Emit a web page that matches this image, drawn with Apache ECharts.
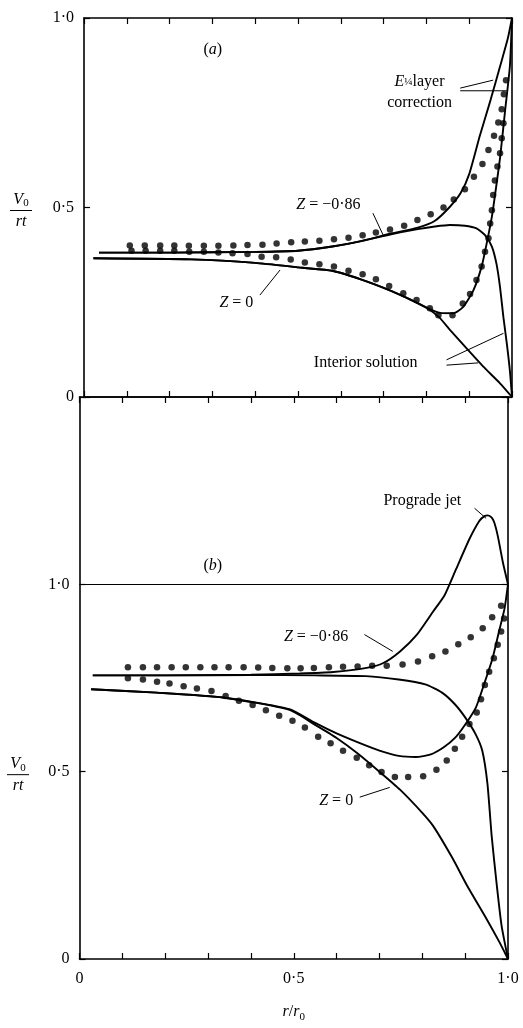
<!DOCTYPE html>
<html>
<head>
<meta charset="utf-8">
<script src="https://cdn.jsdelivr.net/npm/echarts@6/dist/echarts.min.js"></script>
<style>
  html, body { margin: 0; padding: 0; background: #fff; }
  #main { width: 523px; height: 1028px; }
</style>
</head>
<body>
<div id="main"></div>
<script>
var FONT = 'Liberation Serif';

// tick labels (0, 0.5, 1.0)
var xTickLabels = ['0', '0·5', '1·0'];
var yTickLabels = ['0', '0·5', '1·0'];

// ---- panel (a) : [r/r0, V0/rt] ----
// Z = -0.86, with E^1/4 layer correction
var aCorrZ086 = [[0.035,0.381],[0.2,0.381],[0.4,0.383],[0.5,0.386],[0.58,0.397],[0.65,0.412],[0.72,0.432],
  [0.78,0.447],[0.82,0.465],[0.855,0.502],[0.88,0.538],[0.90,0.588],[0.925,0.69],[0.95,0.784],[0.972,0.872],
  [0.99,0.945],[1.0,1.0]];
// Z = -0.86, interior solution
var aIntZ086 = [[0.035,0.381],[0.2,0.381],[0.4,0.383],[0.5,0.386],[0.58,0.397],[0.65,0.412],[0.72,0.430],
  [0.78,0.443],[0.82,0.450],[0.855,0.454],[0.89,0.452],[0.917,0.445],[0.937,0.427],[0.953,0.397],[0.964,0.35],
  [0.972,0.29],[0.98,0.21],[0.988,0.14],[0.995,0.07],[1.0,0]];
// Z = 0, with correction
var aCorrZ0 = [[0.022,0.366],[0.25,0.363],[0.40,0.354],[0.51,0.341],[0.58,0.333],[0.66,0.305],[0.74,0.269],
  [0.80,0.236],[0.832,0.222],[0.863,0.221],[0.886,0.238],[0.91,0.282],[0.929,0.344],[0.941,0.406],[0.953,0.476],
  [0.96,0.53],[0.972,0.63],[0.984,0.757],[0.995,0.872],[1.0,1.0]];
// Z = 0, interior solution
var aIntZ0 = [[0.022,0.366],[0.25,0.363],[0.40,0.354],[0.51,0.341],[0.58,0.333],[0.66,0.305],[0.74,0.269],
  [0.80,0.236],[0.83,0.21],[0.855,0.177],[0.894,0.128],[0.933,0.080],[0.972,0.036],[1.0,0]];
// measured points
var aDotsZ086 = [[0.107,0.400],[0.142,0.400],[0.178,0.400],[0.211,0.400],[0.245,0.399],[0.280,0.399],[0.314,0.399],
  [0.349,0.400],[0.382,0.401],[0.417,0.402],[0.450,0.405],[0.484,0.408],[0.516,0.410],[0.550,0.412],[0.584,0.416],
  [0.618,0.420],[0.651,0.427],[0.682,0.434],[0.715,0.442],[0.748,0.452],[0.779,0.467],[0.810,0.482],[0.840,0.500],
  [0.864,0.521],[0.890,0.548],[0.911,0.581],[0.931,0.615],[0.945,0.652],[0.958,0.689],[0.968,0.724],[0.976,0.759],
  [0.981,0.799],[0.986,0.836]];
var aDotsZ0 = [[0.111,0.386],[0.144,0.386],[0.178,0.386],[0.211,0.386],[0.246,0.383],[0.280,0.383],[0.314,0.381],
  [0.347,0.379],[0.382,0.377],[0.415,0.370],[0.449,0.369],[0.483,0.363],[0.516,0.355],[0.550,0.350],[0.584,0.344],
  [0.618,0.333],[0.651,0.324],[0.682,0.311],[0.713,0.293],[0.746,0.274],[0.777,0.256],[0.808,0.234],[0.828,0.216],
  [0.861,0.216],[0.885,0.247],[0.902,0.272],[0.917,0.309],[0.929,0.344],[0.937,0.383],[0.945,0.419],[0.949,0.458],
  [0.953,0.493],[0.956,0.533],[0.960,0.571],[0.966,0.608],[0.972,0.643],[0.976,0.683],[0.980,0.722]];

// ---- panel (b) ----
var bCorrZ086 = [[0.031,0.757],[0.2,0.757],[0.4,0.759],[0.514,0.762],[0.592,0.766],[0.67,0.777],[0.709,0.790],
  [0.748,0.821],[0.787,0.865],[0.825,0.927],[0.852,0.971],[0.879,1.041],[0.910,1.121],[0.933,1.169],[0.945,1.182],
  [0.953,1.184],[0.962,1.178],[0.968,1.165],[0.976,1.13],[0.988,1.059],[1.0,1.0]];
var bIntZ086 = [[0.031,0.757],[0.2,0.757],[0.4,0.758],[0.55,0.757],[0.668,0.755],[0.745,0.746],[0.807,0.733],
  [0.846,0.711],[0.876,0.680],[0.900,0.645],[0.924,0.601],[0.94,0.556],[0.952,0.468],[0.962,0.327],[0.974,0.195],
  [0.985,0.089],[1.0,0]];
var bCorrZ0 = [[0.027,0.720],[0.18,0.711],[0.335,0.698],[0.49,0.667],[0.55,0.630],[0.60,0.602],[0.65,0.578],
  [0.70,0.556],[0.745,0.542],[0.785,0.539],[0.82,0.546],[0.85,0.565],[0.878,0.592],[0.901,0.627],[0.925,0.671],
  [0.944,0.733],[0.964,0.803],[0.979,0.874],[0.992,0.936],[1.0,1.0]];
var bIntZ0 = [[0.027,0.720],[0.18,0.711],[0.335,0.698],[0.49,0.665],[0.55,0.625],[0.60,0.59],[0.65,0.548],
  [0.70,0.50],[0.748,0.452],[0.80,0.39],[0.826,0.354],[0.87,0.27],[0.904,0.197],[0.95,0.107],[0.98,0.045],[1.0,0]];
var bDotsZ086 = [[0.113,0.779],[0.148,0.779],[0.181,0.779],[0.215,0.779],[0.248,0.779],[0.282,0.779],[0.315,0.779],
  [0.348,0.779],[0.383,0.779],[0.417,0.778],[0.450,0.777],[0.485,0.776],[0.516,0.776],[0.547,0.777],[0.582,0.779],
  [0.615,0.780],[0.649,0.781],[0.683,0.783],[0.717,0.783],[0.754,0.786],[0.790,0.794],[0.823,0.808],[0.854,0.821],
  [0.884,0.840],[0.913,0.859],[0.941,0.883],[0.963,0.912],[0.984,0.943]];
var bDotsZ0 = [[0.113,0.749],[0.148,0.746],[0.181,0.740],[0.210,0.735],[0.243,0.728],[0.274,0.722],[0.308,0.715],
  [0.341,0.702],[0.372,0.689],[0.404,0.678],[0.435,0.664],[0.466,0.649],[0.497,0.636],[0.526,0.618],[0.557,0.593],
  [0.586,0.576],[0.615,0.556],[0.647,0.537],[0.676,0.517],[0.705,0.499],[0.736,0.486],[0.767,0.486],[0.802,0.488],
  [0.833,0.505],[0.857,0.530],[0.876,0.561],[0.893,0.593],[0.910,0.627],[0.927,0.658],[0.937,0.693],[0.946,0.731],
  [0.956,0.767],[0.967,0.803],[0.976,0.839],[0.984,0.874],[0.991,0.909]];

var chart = echarts.init(document.getElementById('main'));

function pickLabel(labels, v) {
  var k = Math.round(v / 0.5);
  if (Math.abs(v - k * 0.5) < 1e-6 && k < labels.length) return labels[k];
  return '';
}

function xAx(grid, pos, showLabel) {
  return {
    type: 'value', gridIndex: grid, position: pos, min: 0, max: 1, interval: 0.1,
    axisLine: { show: true, onZero: false, lineStyle: { color: '#000', width: 1.6 } },
    axisTick: { show: true, inside: true, length: 6, lineStyle: { color: '#000', width: 1.2 } },
    splitLine: { show: false },
    axisLabel: { show: showLabel, margin: 12, color: '#000', fontFamily: FONT, fontSize: 16,
      showMinLabel: true, showMaxLabel: true,
      formatter: function (v) { return pickLabel(xTickLabels, v); } }
  };
}
function yAx(grid, pos, max, showLabel) {
  return {
    type: 'value', gridIndex: grid, position: pos, min: 0, max: max, interval: 0.5,
    axisLine: { show: true, onZero: false, lineStyle: { color: '#000', width: 1.6 } },
    axisTick: { show: true, inside: true, length: 6, lineStyle: { color: '#000', width: 1.2 } },
    splitLine: { show: false },
    axisLabel: { show: showLabel, margin: 10, color: '#000', fontFamily: FONT, fontSize: 16,
      showMinLabel: true, showMaxLabel: true,
      formatter: function (v) { return pickLabel(yTickLabels, v); } }
  };
}
function lineSeries(data, panel) {
  return { type: 'line', data: data, xAxisIndex: panel * 2, yAxisIndex: panel * 2,
    showSymbol: false, smooth: 0.2, silent: true,
    lineStyle: { color: '#000', width: 1.9 } };
}
function dotSeries(data, panel) {
  return { type: 'scatter', data: data, xAxisIndex: panel * 2, yAxisIndex: panel * 2,
    symbol: 'circle', symbolSize: 6.5, silent: true, itemStyle: { color: '#000' } };
}

var xB = xAx(1, 'bottom', true);
xB.name = '{i|r}/{i|r}{s|0}';
xB.nameLocation = 'middle';
xB.nameGap = 42;
xB.nameTextStyle = { color: '#000', fontFamily: FONT, fontSize: 16,
  rich: { i: { fontStyle: 'italic', fontFamily: FONT, fontSize: 16, lineHeight: 22, verticalAlign: 'middle' },
          s: { fontFamily: FONT, fontSize: 11, lineHeight: 22, verticalAlign: 'bottom' } } };

var refLine = lineSeries([], 1);
refLine.markLine = { silent: true, symbol: 'none', label: { show: false },
  lineStyle: { color: '#000', width: 1.2, type: 'solid' }, data: [{ yAxis: 1 }] };

var option = {
  animation: false,
  backgroundColor: '#fff',
  grid: [
    { left: 84, top: 18, width: 428, height: 379 },
    { left: 79.5, top: 397, width: 428.5, height: 570 }
  ],
  xAxis: [xAx(0, 'bottom', false), xAx(0, 'top', false), xB, xAx(1, 'top', false)],
  yAxis: [yAx(0, 'left', 1, true), yAx(0, 'right', 1, false), yAx(1, 'left', 1.5, true), yAx(1, 'right', 1.5, false)],
  series: [
    lineSeries(aCorrZ086, 0), lineSeries(aIntZ086, 0), lineSeries(aCorrZ0, 0), lineSeries(aIntZ0, 0),
    dotSeries(aDotsZ086, 0), dotSeries(aDotsZ0, 0),
    lineSeries(bCorrZ086, 1), lineSeries(bIntZ086, 1), lineSeries(bCorrZ0, 1), lineSeries(bIntZ0, 1),
    dotSeries(bDotsZ086, 1), dotSeries(bDotsZ0, 1),
    refLine
  ]
};
chart.setOption(option);

// ---- annotations, placed in data coordinates ----
var notes = [
  { panel: 0, text: '({i|a})', at: [0.301, 0.916] },
  { panel: 0, text: '{i|E}{f|¼}layer', at: [0.784, 0.831] },
  { panel: 0, text: 'correction', at: [0.784, 0.776] },
  { panel: 0, text: '{i|Z} = −0·86', at: [0.571, 0.507] },
  { panel: 0, text: '{i|Z} = 0', at: [0.356, 0.248] },
  { panel: 0, text: 'Interior solution', at: [0.658, 0.090] },
  { panel: 1, text: 'Prograde jet', at: [0.80, 1.224] },
  { panel: 1, text: '({i|b})', at: [0.311, 1.05] },
  { panel: 1, text: '{i|Z} = −0·86', at: [0.552, 0.861] },
  { panel: 1, text: '{i|Z} = 0', at: [0.599, 0.421] }
];
var leaders = [
  { panel: 0, from: [0.879, 0.815], to: [0.956, 0.836] },
  { panel: 0, from: [0.879, 0.808], to: [0.988, 0.808] },
  { panel: 0, from: [0.675, 0.485], to: [0.699, 0.427] },
  { panel: 0, from: [0.411, 0.269], to: [0.458, 0.335] },
  { panel: 0, from: [0.847, 0.098], to: [0.980, 0.168] },
  { panel: 0, from: [0.847, 0.084], to: [0.921, 0.090] },
  { panel: 1, from: [0.922, 1.203], to: [0.949, 1.176] },
  { panel: 1, from: [0.665, 0.866], to: [0.731, 0.821] },
  { panel: 1, from: [0.654, 0.432], to: [0.724, 0.458] }
];

function px(panel, p) {
  return chart.convertToPixel({ xAxisIndex: panel * 2, yAxisIndex: panel * 2 }, p);
}
var rich = {
  i: { fontStyle: 'italic', fontFamily: FONT, fontSize: 16 },
  f: { fontFamily: FONT, fontSize: 11 },
  s: { fontFamily: FONT, fontSize: 11, padding: [8, 0, 0, 0] }
};
var elements = [];
notes.forEach(function (n) {
  var p = px(n.panel, n.at);
  elements.push({ type: 'text', x: p[0], y: p[1], silent: true,
    style: { text: n.text, rich: rich, fill: '#000', fontFamily: FONT, fontSize: 16,
      align: 'center', verticalAlign: 'middle' } });
});
leaders.forEach(function (l) {
  var a = px(l.panel, l.from), b = px(l.panel, l.to);
  elements.push({ type: 'line', silent: true, shape: { x1: a[0], y1: a[1], x2: b[0], y2: b[1] },
    style: { stroke: '#000', lineWidth: 1 } });
});
// V0/rt fraction next to the 0.5 tick of each panel
[[0, 21], [1, 18]].forEach(function (f) {
  var y = chart.convertToPixel({ yAxisIndex: f[0] * 2 }, 0.5) + 3;
  var cx = f[1];
  elements.push({ type: 'text', x: cx, y: y - 11, silent: true,
    style: { text: '{i|V}{s|0}', rich: rich, fill: '#000', fontFamily: FONT, fontSize: 16,
      align: 'center', verticalAlign: 'middle' } });
  elements.push({ type: 'line', silent: true, shape: { x1: cx - 11, y1: y, x2: cx + 11, y2: y },
    style: { stroke: '#000', lineWidth: 1 } });
  elements.push({ type: 'text', x: cx, y: y + 11, silent: true,
    style: { text: '{i|rt}', rich: rich, fill: '#000', fontFamily: FONT, fontSize: 16,
      align: 'center', verticalAlign: 'middle' } });
});
chart.setOption({ graphic: { elements: elements } });
</script>
</body>
</html>
